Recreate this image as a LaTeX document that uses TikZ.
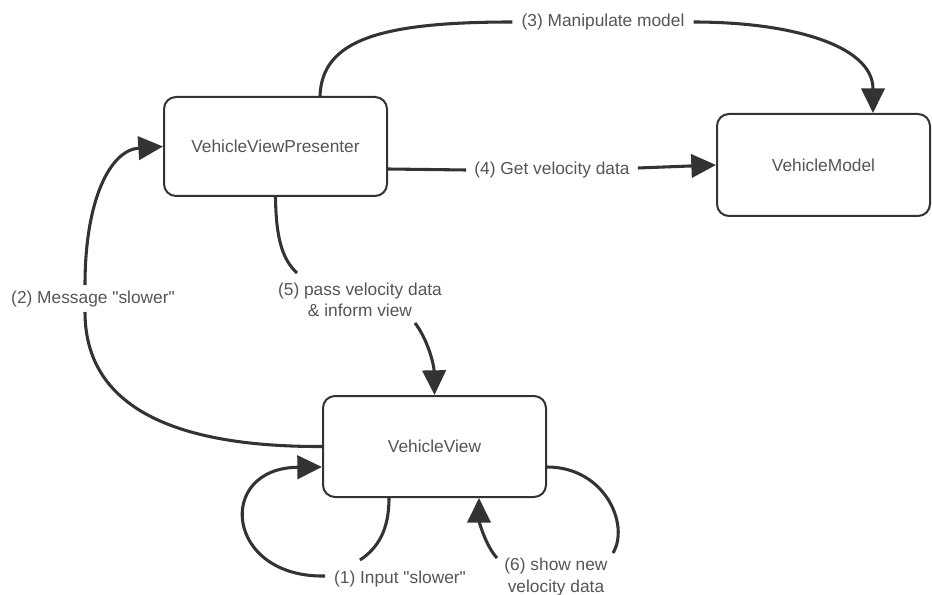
\documentclass[tikz,border=0pt]{standalone}
\usepackage{fontspec}
\setmainfont{Liberation Sans}[Ligatures=TeXOff]
\usetikzlibrary{arrows.meta,calc}
\definecolor{linec}{HTML}{333333}
\definecolor{textc}{HTML}{555555}
\tikzset{
  box/.style={draw=linec, line width=1.5pt, rounded corners=9pt, fill=white,
    text=textc, font=\fontsize{13}{16}\selectfont, align=center},
  lbl/.style={text=textc, font=\fontsize{13}{15.8}\selectfont, align=center, inner sep=0pt},
  conn/.style={draw=linec, line width=2.3pt},
  arr/.style={conn, -{Triangle[length=18.5pt,width=17.5pt]}}
}
\begin{document}
\begin{tikzpicture}[x=0.75pt,y=-0.75pt]
\useasboundingbox (0,0) rectangle (932,595);
% boxes
\node[box, minimum width=167.25pt, minimum height=74.25pt] (pres) at (275.5,146.5) {VehicleViewPresenter};
\node[box, minimum width=159.75pt, minimum height=76.5pt] (model) at (823.5,165) {VehicleModel};
\node[box, minimum width=167.25pt, minimum height=75.75pt] (view) at (434.5,446.5) {VehicleView};
% labels
\node[lbl] (l3) at (603,22) {(3) Manipulate model};
\node[lbl] (l4) at (552,170) {(4) Get velocity data};
\node[lbl] (l5) at (360,300) {(5) pass velocity data\\\& inform view};
\node[lbl] (l2) at (93,299) {(2) Message "slower"};
\node[lbl] (l1) at (400,579) {(1) Input "slower"};
\node[lbl] (l6) at (556,577) {(6) show new\\velocity data};
% gap coordinates
\coordinate (c5a) at (297,273);
\coordinate (c5b) at (415,323);
\coordinate (c2a) at (85,312);
\coordinate (c2b) at (85,285);
\coordinate (c1a) at (360,560);
\coordinate (c1b) at (325,576);
\coordinate (c6a) at (613,553);
\coordinate (c6b) at (497,558);
% (3)
\draw[conn] ($(pres.north)+(44.5,0)$) .. controls (322,40) and (380,22) .. ($(l3.west)+(-9,0)$);
\draw[arr] ($(l3.east)+(9,0)$) .. controls (790,22) and (873,45) .. ($(model.north)+(49.5,0)$);
% (4)
\draw[conn] ($(pres.east)+(0,22.5)$) -- ($(l4.west)+(-8,0)$);
\draw[arr] ($(l4.east)+(8,-2)$) -- (model.west);
% (5)
\draw[conn] (pres.south) .. controls (276,240) and (283,260) .. (c5a);
\draw[arr] (c5b) .. controls (428,340) and (434,365) .. (view.north);
% (2)
\draw[conn] (view.west) .. controls (200,447) and (85,420) .. (c2a);
\draw[arr] (c2b) .. controls (85,200) and (110,150) .. (pres.west);
% (1)
\draw[conn] ($(view.south)+(-45.5,0)$) .. controls (389,530) and (378,548) .. (c1a);
\draw[arr] (c1b) .. controls (225,578) and (215,468) .. ($(view.west)+(0,20.5)$);
% (6)
\draw[conn] ($(view.east)+(0,20.5)$) .. controls (605,467) and (630,525) .. (c6a);
\draw[arr] (c6b) .. controls (485,545) and (479,520) .. ($(view.south)+(44.5,0)$);
\end{tikzpicture}
\end{document}
